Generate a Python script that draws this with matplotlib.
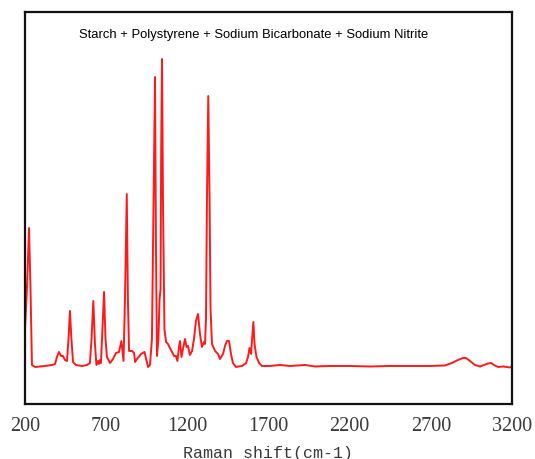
import matplotlib
matplotlib.use('Agg')
import matplotlib.pyplot as plt

# Raman spectrum, values (arbitrary intensity units)
shift = [200, 212, 225, 234, 243, 262, 323, 366, 385, 397, 409, 422, 434, 446, 459,
         468, 477, 486, 496, 514, 551, 582, 600, 610, 621, 631, 640, 650, 656, 662,
         668, 677, 687, 696, 705, 724, 742, 761, 779, 794, 807, 816, 827, 834, 841,
         859, 872, 878, 890, 915, 936, 949, 958, 970, 982, 992, 1001, 1007, 1013, 1022,
         1029, 1035, 1039, 1044, 1050, 1059, 1069, 1081, 1093, 1106, 1118, 1130, 1139, 1149, 1155,
         1164, 1173, 1186, 1195, 1204, 1216, 1229, 1241, 1253, 1266, 1278, 1290, 1303, 1309, 1315,
         1321, 1329, 1337, 1343, 1352, 1371, 1389, 1401, 1420, 1432, 1444, 1457, 1469, 1481, 1500,
         1537, 1562, 1574, 1583, 1593, 1599, 1607, 1614, 1626, 1642, 1660, 1709, 1771, 1832, 1925,
         1986, 2079, 2202, 2325, 2448, 2571, 2695, 2787, 2830, 2867, 2898, 2916, 2941, 2972, 3003,
         3028, 3052, 3071, 3089, 3114, 3144, 3169, 3187, 3200]
intensity = [75, 115, 176, 115, 39, 37, 38, 39, 40, 47, 52, 48, 48, 44, 43,
             65, 93, 65, 42, 39, 38, 39, 41, 65, 103, 60, 39, 43, 40, 44,
             41, 75, 112, 65, 47, 41, 45, 51, 52, 63, 43, 105, 210, 105, 53,
             53, 51, 42, 45, 50, 52, 43, 37, 39, 65, 205, 327, 155, 48, 65,
             105, 115, 255, 345, 205, 75, 62, 60, 56, 52, 48, 48, 43, 57, 63,
             47, 55, 65, 57, 58, 49, 53, 65, 83, 90, 70, 57, 62, 60, 85,
             205, 308, 205, 95, 60, 53, 50, 45, 50, 58, 63, 63, 50, 41, 37,
             38, 41, 47, 56, 50, 65, 82, 60, 47, 41, 38, 38, 39, 38, 39,
             37.5, 38, 38, 37.5, 38, 38, 38, 38.5, 41, 44, 46, 46, 43, 39, 37.5,
             39, 40.5, 41, 39, 37, 37.5, 37, 36.5, 38]

title_text = 'Starch + Polystyrene + Sodium Bicarbonate + Sodium Nitrite'
xticks = [200, 700, 1200, 1700, 2200, 2700, 3200]

fig = plt.figure(figsize=(5.35, 4.6), dpi=100)
ax = fig.add_axes([0.0467, 0.1196, 0.9103, 0.8521])

ax.plot(shift, intensity, color='#ff1a1a', lw=1.4)

ax.set_xlim(200, 3200)
ax.set_ylim(0, 392)
ax.set_xticks(xticks)
ax.set_xticklabels([str(t) for t in xticks], family='Liberation Serif', fontsize=14.5, color='#3a3a3a')
ax.set_yticks([])
ax.tick_params(axis='x', length=0, pad=8.5)

ax.set_xlabel('Raman shift(cm-1)', family='Liberation Mono', fontsize=12, color='#3a3a3a', labelpad=7)

ax.text(0.47, 0.944, title_text, transform=ax.transAxes, ha='center', va='center',
        family='Liberation Sans', fontsize=9.4, color='black')

for side in ['left', 'right', 'top', 'bottom']:
    ax.spines[side].set_linewidth(1.6)
    ax.spines[side].set_color('#111111')

fig.savefig('out.png', dpi=100)
